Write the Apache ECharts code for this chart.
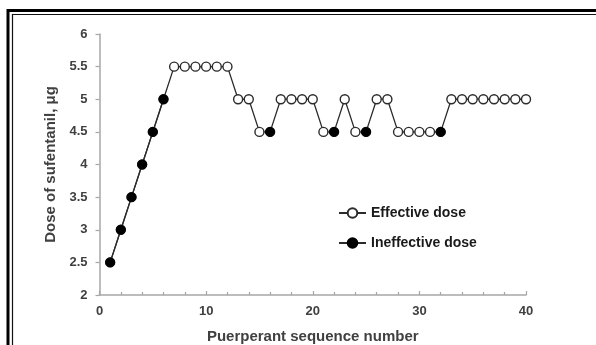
<!DOCTYPE html>
<html>
<head>
<meta charset="utf-8">
<script src="https://cdn.jsdelivr.net/npm/echarts@6/dist/echarts.min.js"></script>
<style>
html,body{margin:0;padding:0;background:#fff;}
#c{width:596px;height:345px;}
</style>
</head>
<body>
<div id="c"></div>
<script>
// Sequence numbers (1..40)
const sequence = [1,2,3,4,5,6,7,8,9,10,11,12,13,14,15,16,17,18,19,20,21,22,23,24,25,26,27,28,29,30,31,32,33,34,35,36,37,38,39,40];
// Dose of sufentanil (μg) for each puerperant
const doses = [2.5,3,3.5,4,4.5,5,5.5,5.5,5.5,5.5,5.5,5.5,5,5,4.5,4.5,5,5,5,5,4.5,4.5,5,4.5,4.5,5,5,4.5,4.5,4.5,4.5,4.5,5,5,5,5,5,5,5,5];
// Outcome: 1 = effective, 0 = ineffective
const effective = [0,0,0,0,0,0,1,1,1,1,1,1,1,1,1,0,1,1,1,1,1,0,1,1,0,1,1,1,1,1,1,0,1,1,1,1,1,1,1,1];
const seriesNames = ['Effective dose', 'Ineffective dose'];
const yTicks = ['2','2.5','3','3.5','4','4.5','5','5.5','6'];
const xTitle = 'Puerperant sequence number';
const yTitle = 'Dose of sufentanil, μg';

const lineColor = '#2b2b2b';
const textColor = '#404040';
const font = '"Liberation Sans", Arial, sans-serif';

const allPts = sequence.map((s, i) => [s, doses[i]]);
const ineffPts = sequence.map((s, i) => effective[i] === 0 ? [s, doses[i]] : [s, null]);

const chart = echarts.init(document.getElementById('c'), null, {renderer: 'canvas'});
chart.setOption({
  animation: false,
  backgroundColor: '#fff',
  textStyle: {fontFamily: font},
  grid: {left: 99.5, right: 70, top: 34, bottom: 50, containLabel: false, outerBoundsMode: 'none'},
  graphic: [
    {type: 'rect', z: 100, silent: true, shape: {x: 8, y: 10.5, width: 700, height: 500}, style: {fill: 'none', stroke: '#000', lineWidth: 3}},
    {type: 'rect', z: 100, silent: true, shape: {x: 12.5, y: 14.5, width: 700, height: 500}, style: {fill: 'none', stroke: '#111', lineWidth: 1.2}}
  ],
  legend: {
    orient: 'vertical',
    left: 333,
    top: 201,
    itemWidth: 27,
    itemHeight: 12,
    itemGap: 16,
    data: seriesNames,
    textStyle: {fontFamily: font, fontWeight: 'bold', fontSize: 14, color: '#1a1a1a'}
  },
  xAxis: {
    type: 'value',
    min: 0, max: 40, interval: 10,
    name: xTitle,
    nameLocation: 'middle',
    nameGap: 34,
    nameTextStyle: {fontFamily: font, fontWeight: 'bold', fontSize: 15, color: textColor},
    axisLine: {show: true, lineStyle: {color: '#a6a6a6', width: 1.5}},
    axisTick: {show: true, inside: true, length: 4, lineStyle: {color: '#a6a6a6', width: 1.2}},
    minorTick: {show: true, splitNumber: 5, length: 3, lineStyle: {color: '#a6a6a6', width: 1.2}},
    splitLine: {show: false},
    axisLabel: {margin: 10, fontFamily: font, fontWeight: 'bold', fontSize: 13, color: textColor}
  },
  yAxis: {
    type: 'value',
    min: 2, max: 6, interval: 0.5,
    name: yTitle,
    nameLocation: 'middle',
    nameGap: 40,
    nameRotate: 90,
    nameTextStyle: {fontFamily: font, fontWeight: 'bold', fontSize: 15, color: textColor},
    axisLine: {show: true, lineStyle: {color: '#a6a6a6', width: 1.5}},
    axisTick: {show: true, inside: false, length: 4, lineStyle: {color: '#a6a6a6', width: 1.2}},
    splitLine: {show: false},
    axisLabel: {margin: 12, fontFamily: font, fontWeight: 'bold', fontSize: 13, color: textColor,
      formatter: function (v) { const s = String(v); return yTicks.indexOf(s) >= 0 ? s : ''; }}
  },
  series: [
    {
      name: seriesNames[0],
      type: 'line',
      data: allPts,
      symbol: 'circle',
      symbolSize: 9,
      showAllSymbol: true,
      lineStyle: {color: lineColor, width: 1.3},
      itemStyle: {color: '#fff', borderColor: lineColor, borderWidth: 1.4},
      z: 2
    },
    {
      name: seriesNames[1],
      type: 'line',
      data: ineffPts,
      connectNulls: false,
      symbol: 'circle',
      symbolSize: 9,
      showAllSymbol: true,
      lineStyle: {color: lineColor, width: 1.3},
      itemStyle: {color: '#000', borderColor: '#000', borderWidth: 1},
      z: 3
    }
  ]
});
</script>
</body>
</html>
